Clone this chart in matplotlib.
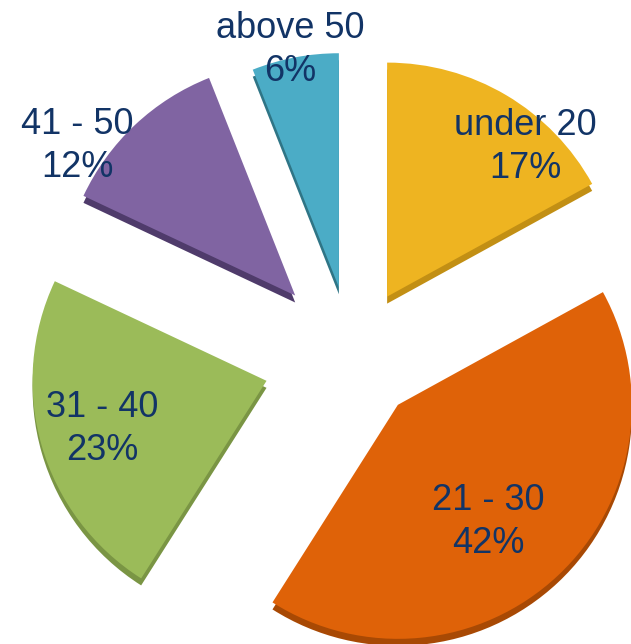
import matplotlib
matplotlib.use("Agg")
import matplotlib.pyplot as plt

# age groups, share in percent
groups = ["under 20", "21 - 30", "31 - 40", "41 - 50", "above 50"]
shares = [17, 42, 23, 12, 6]

face_colors = ["#EEB421", "#DF6208", "#9BBB59", "#8064A2", "#4BACC6"]
side_colors = ["#C28F14", "#A84904", "#7A9544", "#4F3B6B", "#2F7586"]

# how far each slice is pulled out (pixels)
explode = [69, 67, 89, 83, 70]

# label anchor points (pixels, from top left)
label_pos = [(525, 147), (488, 522), (102, 429), (77, 146), (290, 50)]

W, H = 631, 644
cx, cy = 352, H - 356
R = 234
depth = 7

fig = plt.figure(figsize=(W / 100, H / 100), dpi=100)
ax = fig.add_axes([0, 0, 1, 1])

# side of the slices first (shifted down), then the top faces
ax.pie(shares, explode=explode, colors=side_colors, startangle=90,
       counterclock=False, center=(cx, cy - depth), radius=R,
       wedgeprops=dict(linewidth=0))
ax.pie(shares, explode=explode, colors=face_colors, startangle=90,
       counterclock=False, center=(cx, cy), radius=R,
       wedgeprops=dict(linewidth=0))

for g, s, (px, py) in zip(groups, shares, label_pos):
    ax.text(px, H - py, g + "\n" + str(s) + "%", ha="center", va="center",
            multialignment="center", fontsize=26, color="#123466",
            family="Liberation Sans", linespacing=1.28)

ax.set_xlim(0, W)
ax.set_ylim(0, H)
ax.set_aspect("auto")
ax.axis("off")

fig.savefig("out.png", dpi=100)
